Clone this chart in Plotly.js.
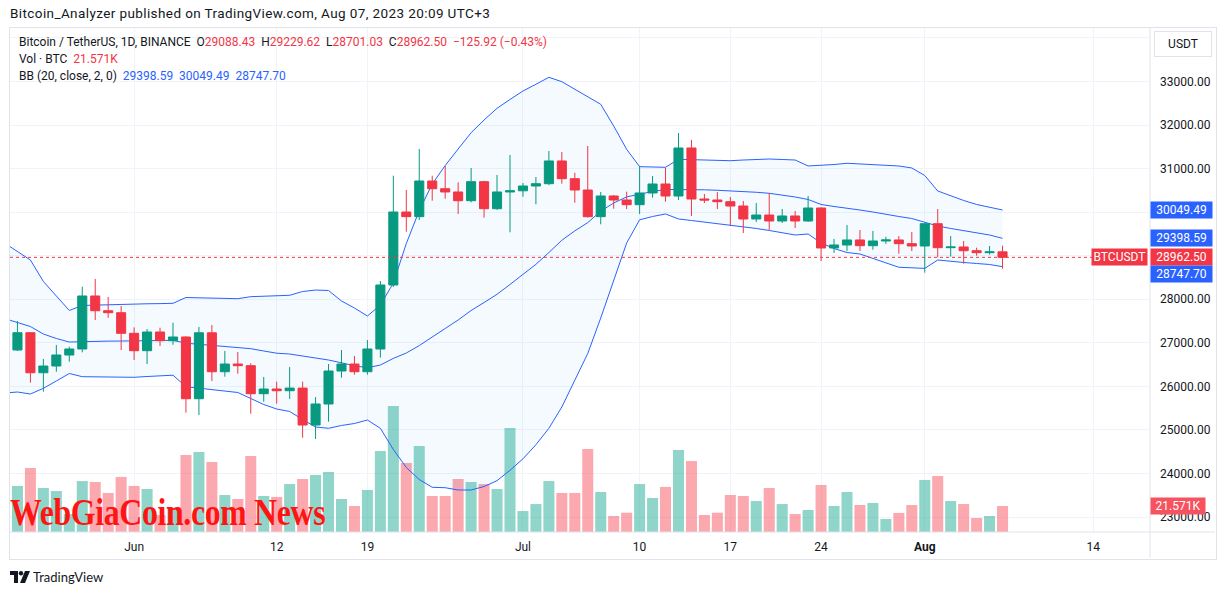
<!DOCTYPE html>
<html>
<head>
<meta charset="utf-8">
<script src="https://cdn.plot.ly/plotly-3.0.1.min.js"></script>
<style>
  html, body { margin:0; padding:0; background:#ffffff; width:1226px; height:595px; overflow:hidden; }
  #chart { position:absolute; left:0; top:0; width:1226px; height:595px; z-index:1; }
  #frame { position:absolute; left:9px; top:27px; width:1206px; height:531px; border:1px solid #e0e3eb; z-index:2; pointer-events:none; }
  #hdr { position:absolute; left:10px; top:5px; font-family:Roboto, "Noto Sans", sans-serif; font-size:13.5px; letter-spacing:0.4px; color:#131722; white-space:nowrap; z-index:3; }
  #ftr { position:absolute; left:10px; top:569px; height:16px; z-index:3; font-family:Lato, "Noto Sans", sans-serif; font-size:13px; color:#131722; white-space:nowrap; }
  #ftr svg { position:absolute; left:0; top:2px; }
  #ftr span { position:absolute; left:23px; top:0px; }
  #wm { position:absolute; left:10px; top:491px; z-index:4; font-family:"Liberation Serif", "DejaVu Serif", serif; font-weight:bold; font-size:37px; color:#ff1414; white-space:nowrap; transform-origin:0 0; transform:scaleX(0.86); letter-spacing:-0.4px; }
</style>
</head>
<body>
<div id="hdr">Bitcoin_Analyzer published on TradingView.com, Aug 07, 2023 20:09 UTC+3</div>
<div id="chart"></div>
<div id="frame"></div>
<div id="wm">WebGiaCoin.com News</div>
<div id="ftr">
  <svg width="20" height="12" viewBox="0 0 20 12">
    <path d="M0 0 H8 V12 H4 V4 H0 Z" fill="#131722"/>
    <circle cx="11" cy="2.2" r="2.2" fill="#131722"/>
    <path d="M15 0 H20 L15 12 H10 Z" fill="#131722"/>
  </svg>
  <span>TradingView</span>
</div>
<script>
// ---------------- DATA ----------------
const dates = [
 '2023-05-23','2023-05-24','2023-05-25','2023-05-26','2023-05-27','2023-05-28','2023-05-29','2023-05-30','2023-05-31',
 '2023-06-01','2023-06-02','2023-06-03','2023-06-04','2023-06-05','2023-06-06','2023-06-07','2023-06-08','2023-06-09','2023-06-10',
 '2023-06-11','2023-06-12','2023-06-13','2023-06-14','2023-06-15','2023-06-16','2023-06-17','2023-06-18','2023-06-19','2023-06-20',
 '2023-06-21','2023-06-22','2023-06-23','2023-06-24','2023-06-25','2023-06-26','2023-06-27','2023-06-28','2023-06-29','2023-06-30',
 '2023-07-01','2023-07-02','2023-07-03','2023-07-04','2023-07-05','2023-07-06','2023-07-07','2023-07-08','2023-07-09','2023-07-10',
 '2023-07-11','2023-07-12','2023-07-13','2023-07-14','2023-07-15','2023-07-16','2023-07-17','2023-07-18','2023-07-19','2023-07-20',
 '2023-07-21','2023-07-22','2023-07-23','2023-07-24','2023-07-25','2023-07-26','2023-07-27','2023-07-28','2023-07-29','2023-07-30',
 '2023-07-31','2023-08-01','2023-08-02','2023-08-03','2023-08-04','2023-08-05','2023-08-06','2023-08-07'
];

const openP = [
 26835,27232,26313,26467,26720,26858,28075,27737,27691,27218,
 26819,27248,27048,27133,25716,27230,26336,26513,26475,25831,
 25939,25900,25960,25112,25595,26352,26513,26336,26858,28327,
 30003,29896,30715,30538,30463,30263,30700,30079,30463,30490,
 30600,30653,31175,30768,30508,29896,30371,30279,30171,30440,
 30646,30371,31473,30302,30279,30240,30141,29843,29934,29797,
 29912,29797,30095,29177,29246,29361,29230,29338,29361,29276,
 29223,29735,29184,29200,29115,29069,29088.43
];
const highP = [
 27501,27240,26628,26950,26910,28288,28465,28052,27845,27356,
 27317,27347,27462,27150,27363,27409,26812,26789,26530,26215,
 26107,26444,26107,25755,26513,26835,26697,27064,28419,30837,
 30509,31450,30837,31060,30685,31014,30720,30853,31312,30669,
 30807,31404,31381,30906,31519,30463,30394,30470,31060,30830,
 31021,31817,31657,30417,30463,30348,30256,30210,30440,30072,
 30026,30371,30110,29384,29705,29590,29567,29436,29452,29544,
 29751,30072,29452,29338,29184,29223,29229.62
];
const lowP = [
 26812,26084,25877,26335,26566,26782,27524,27576,26835,26605,
 26513,26927,26956,25395,25342,26123,26222,26290,25372,25647,
 25602,25710,24821,24791,25188,26199,26268,26268,26660,28280,
 29551,29820,30263,30309,29958,30225,29873,30050,29537,30355,
 30180,30620,30653,30217,29873,29721,30079,30072,29958,30332,
 30240,30279,29912,30210,30072,29682,29521,29774,29590,29750,
 29636,29774,28878,29062,29108,29108,29138,29269,29046,29108,
 28610,28963,28977,28816,29000,29023,28701.03
];
const closeP = [
 27232,26313,26467,26720,26858,28075,27737,27691,27218,26819,
 27248,27048,27133,25716,27230,26336,26513,26475,25831,25939,
 25900,25960,25112,25595,26352,26513,26336,26858,28327,30003,
 29896,30715,30538,30463,30263,30700,30079,30463,30490,30600,
 30653,31175,30768,30508,29896,30371,30279,30171,30440,30646,
 30371,31473,30302,30279,30240,30141,29843,29934,29797,29912,
 29797,30095,29177,29246,29361,29230,29338,29361,29276,29223,
 29735,29184,29200,29115,29069,29088,28962.50
];
// volume, thousands of BTC
const volumeK = [
 38.2,53.1,36.5,34.0,14.9,42.3,41.5,32.4,45.7,38.2,
 35.7,14.1,19.1,63.9,66.4,58.1,30.7,27.4,63.1,29.9,
 29.1,39.8,44.0,47.3,49.8,27.4,21.6,34.9,67.2,104.6,
 57.3,71.4,29.9,29.9,44.0,41.5,39.8,35.7,86.3,17.4,
 23.2,42.3,32.4,32.4,68.9,33.2,13.3,16.0,39.8,28.2,
 37.4,68.1,58.9,14.1,16.0,30.7,29.9,25.7,36.5,23.2,
 14.9,18.3,39.0,21.6,33.2,22.4,24.1,10.8,15.8,22.4,
 43.2,46.5,25.7,23.2,11.6,13.3,21.571
];

// Bollinger Bands (20, close, 2), first point is 2023-05-22
const bbDates = ['2023-05-22'].concat(dates);
const bbUpper = [
 29292,29096,28901,28408,28063,27742,27857,27868,27875,27884,27891,
 27896,27900,27907,28040,28029,28022,28017,28013,28059,28075,
 28086,28091,28178,28212,28201,27960,27799,27615,27868,28373,
 29280,30038,30646,31071,31450,31824,32116,32385,32587,32782,
 32936,33096,32995,32821,32651,32476,31978,31443,31044,31037,
 31030,31214,31204,31197,31191,31181,31197,31209,31220,31209,
 31197,31060,31071,31094,31122,31106,31094,31083,31060,31014,
 30842,30486,30371,30268,30176,30107,30049.49
];
const bbBasis = [
 27558,27466,27374,27202,27099,27018,27030,27034,27039,27041,27046,
 27051,27055,27057,26991,26966,26945,26922,26899,26865,26812,
 26761,26743,26697,26646,26605,26541,26472,26428,26490,26642,
 26766,26936,27122,27328,27524,27742,27925,28114,28339,28566,
 28802,29073,29354,29570,29760,30022,30210,30350,30417,30474,
 30520,30520,30525,30513,30502,30490,30474,30456,30433,30394,
 30348,30291,30176,30130,30095,30049,30003,29946,29900,29854,
 29774,29682,29625,29579,29533,29475,29398.59
];
const bbLower = [
 25847,25870,25824,25955,26123,26295,26222,26215,26215,26210,26208,
 26226,26238,26256,25992,25958,25928,25893,25859,25721,25583,
 25480,25423,25239,25067,25037,25101,25147,25227,25037,24550,
 24137,23861,23682,23673,23620,23620,23700,23834,24072,24336,
 24660,25037,25526,26123,26754,27569,28442,29290,29824,29900,
 29958,29843,29808,29774,29739,29705,29671,29625,29579,29533,
 29475,29498,29292,29165,29073,29039,28936,28825,28734,28722,
 28708,28901,28867,28844,28821,28798,28747.70
];

const tickDates  = ['2023-06-01','2023-06-12','2023-06-19','2023-07-01','2023-07-10','2023-07-17','2023-07-24','2023-08-01','2023-08-14'];
const tickLabels = ['Jun','12','19','Jul','10','17','24','<b>Aug</b>','14'];
const priceTicks = [23000,24000,25000,26000,27000,28000,29000,30000,31000,32000,33000,34000];
const priceTickLabels = ['23000.00','24000.00','25000.00','26000.00','27000.00','28000.00','','','31000.00','32000.00','33000.00',''];

const symbolTitle = 'Bitcoin / TetherUS, 1D, BINANCE';
const changeText = '\u2212125.92 (\u22120.43%)';
const volTitle = 'Vol \u00b7 BTC';
const volText = '21.571K';
const bbTitle = 'BB (20, close, 2, 0)';

// ---------------- LAYOUT HELPERS ----------------
const FONT = 'Roboto, "Noto Sans", Arial, sans-serif';
const PL = 10, PR = 1149, PT = 27, PB = 532;
const px2x = px => (px - PL) / (PR - PL);
const py2y = py => (PB - py) / (PB - PT);
const UP = '#089981', DOWN = '#f23645', BLUE = '#2962ff';

const n = closeP.length;
const lastO = openP[n-1], lastH = highP[n-1], lastL = lowP[n-1], lastC = closeP[n-1];
const volColors = closeP.map((c, i) => c >= openP[i] ? 'rgba(34,171,148,0.5)' : 'rgba(247,82,95,0.5)');

const traces = [
  { type:'bar', x:dates, y:volumeK, xaxis:'x', yaxis:'y', marker:{color:volColors, line:{width:0}}, hoverinfo:'skip' },
  { type:'scatter', mode:'lines', x:bbDates, y:bbUpper, xaxis:'x', yaxis:'y2', line:{color:BLUE, width:1}, hoverinfo:'skip' },
  { type:'scatter', mode:'lines', x:bbDates, y:bbLower, xaxis:'x', yaxis:'y2', line:{color:BLUE, width:1}, fill:'tonexty', fillcolor:'rgba(33,150,243,0.05)', hoverinfo:'skip' },
  { type:'scatter', mode:'lines', x:bbDates, y:bbBasis, xaxis:'x', yaxis:'y2', line:{color:BLUE, width:1}, hoverinfo:'skip' },
  { type:'candlestick', x:dates, open:openP, high:highP, low:lowP, close:closeP, xaxis:'x', yaxis:'y3',
    increasing:{line:{color:UP, width:1}, fillcolor:UP},
    decreasing:{line:{color:DOWN, width:1}, fillcolor:DOWN},
    whiskerwidth:0, hoverinfo:'skip' }
];

const red = s => '<span style="color:' + DOWN + '">' + s + '</span>';
const blue = s => '<span style="color:' + BLUE + '">' + s + '</span>';
const sp = '\u00a0\u00a0';
const line1 = symbolTitle + sp + 'O' + red(lastO.toFixed(2)) + sp + 'H' + red(lastH.toFixed(2)) + sp + 'L' + red(lastL.toFixed(2)) + sp + 'C' + red(lastC.toFixed(2)) + sp + red(changeText);
const line2 = volTitle + sp + red(volText);
const line3 = bbTitle + sp + blue(bbBasis[bbBasis.length-1].toFixed(2)) + sp + blue(bbUpper[bbUpper.length-1].toFixed(2)) + sp + blue(bbLower[bbLower.length-1].toFixed(2));

function legendAnn(text, py) {
  return { xref:'paper', yref:'paper', x:px2x(17), y:py2y(py), xanchor:'left', yanchor:'middle', text:text, showarrow:false,
           font:{family:FONT, size:12, color:'#131722'} };
}
function priceLabel(val, color, yshift) {
  return { xref:'paper', yref:'y2', x:px2x(1150), y:val, xanchor:'left', yanchor:'middle', text:val.toFixed(2), showarrow:false,
           bgcolor:color, font:{family:FONT, size:12, color:'#ffffff'}, width:59, height:14, borderpad:1, yshift:yshift||0 };
}

const annotations = [
  legendAnn(line1, 42), legendAnn(line2, 59), legendAnn(line3, 76),
  priceLabel(bbUpper[bbUpper.length-1], BLUE),
  priceLabel(bbBasis[bbBasis.length-1], BLUE),
  priceLabel(lastC, DOWN),
  priceLabel(bbLower[bbLower.length-1], BLUE, -7),
  { xref:'paper', yref:'y2', x:px2x(1148), y:lastC, xanchor:'right', yanchor:'middle', text:'BTCUSDT', showarrow:false,
    bgcolor:DOWN, font:{family:FONT, size:12, color:'#ffffff'}, width:53, height:14, borderpad:1 },
  { xref:'paper', yref:'y', x:px2x(1150), y:volumeK[n-1], xanchor:'left', yanchor:'middle', text:volText, showarrow:false,
    bgcolor:'#f7525f', font:{family:FONT, size:12, color:'#ffffff'}, width:52, height:14, borderpad:1 },
  { xref:'paper', yref:'paper', x:px2x(1183), y:py2y(43.5), xanchor:'center', yanchor:'middle', text:'USDT', showarrow:false,
    bgcolor:'#ffffff', bordercolor:'#e0e3eb', borderwidth:1, font:{family:FONT, size:12, color:'#131722'}, width:52, height:20, borderpad:2 }
];

const shapes = [
  { type:'line', xref:'paper', yref:'y2', x0:0, x1:1, y0:lastC, y1:lastC, line:{color:DOWN, width:1, dash:'dot'}, layer:'above' },
  { type:'line', xref:'paper', yref:'paper', x0:px2x(1150), x1:px2x(1150), y0:py2y(558), y1:py2y(27), line:{color:'#e0e3eb', width:1} },
  { type:'line', xref:'paper', yref:'paper', x0:px2x(10), x1:px2x(1215), y0:0, y1:0, line:{color:'#e0e3eb', width:1} }
];

const layout = {
  width:1226, height:595,
  margin:{l:PL, r:1226-PR, t:PT, b:595-PB, pad:0},
  paper_bgcolor:'rgba(0,0,0,0)', plot_bgcolor:'rgba(0,0,0,0)',
  showlegend:false,
  bargap:0.15, boxgap:0.3, boxgroupgap:0,
  font:{family:FONT, size:12, color:'#131722'},
  xaxis:{ type:'date', range:['2023-05-22 10:12','2023-08-18 07:12'], tickmode:'array', tickvals:tickDates, ticktext:tickLabels,
          showgrid:true, gridcolor:'#f0f3fa', gridwidth:1, showline:false, zeroline:false, ticks:'', ticklabelstandoff:6,
          tickfont:{family:FONT, size:12, color:'#131722'}, rangeslider:{visible:false}, fixedrange:true },
  yaxis:{ range:[0, 419.15], visible:false, fixedrange:true },
  yaxis2:{ overlaying:'y', side:'right', range:[22656, 34251], tickmode:'array', tickvals:priceTicks, ticktext:priceTickLabels,
           showgrid:true, gridcolor:'#f0f3fa', gridwidth:1, zeroline:false, showline:false, ticks:'', ticklabelstandoff:10,
           tickfont:{family:FONT, size:12, color:'#131722'}, fixedrange:true },
  yaxis3:{ overlaying:'y', range:[22656, 34251], visible:false, fixedrange:true },
  annotations:annotations,
  shapes:shapes
};

Plotly.newPlot('chart', traces, layout, {displayModeBar:false, staticPlot:true});
</script>
</body>
</html>
